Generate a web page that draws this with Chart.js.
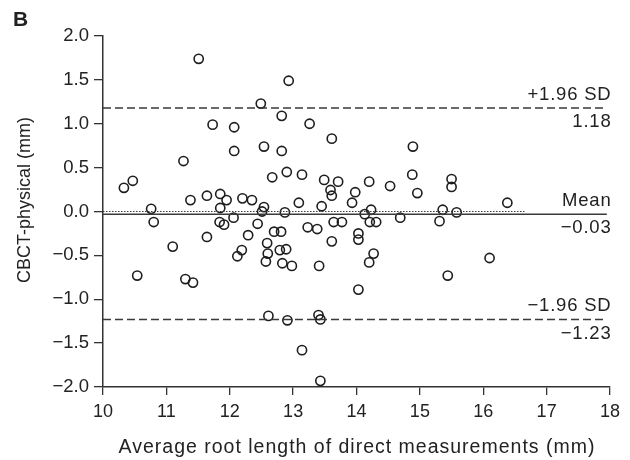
<!DOCTYPE html>
<html>
<head>
<meta charset="utf-8">
<script src="https://cdn.jsdelivr.net/npm/chart.js@4.4.0/dist/chart.umd.min.js"></script>
<style>
  html, body { margin: 0; padding: 0; background: #fff; }
  #wrap { width: 630px; height: 460px; position: relative; }
</style>
</head>
<body>
<div id="wrap"><canvas id="myChart" width="630" height="460"></canvas></div>
<script>
// average root length (x) and CBCT - physical difference (y)
const avgLength = [
  11.51, 12.49, 12.82, 11.73, 12.07, 12.07, 12.54, 12.82, 11.27, 12.67,
  10.47, 10.33, 11.38, 11.64, 11.85, 11.95, 12.20, 12.35, 10.76, 11.85,
  12.54, 12.51, 10.80, 11.84, 11.91, 12.06, 12.44, 12.70, 12.81, 12.29,
  11.64, 11.10, 12.59, 12.19, 12.12, 12.60, 12.79, 12.89, 12.57, 12.83,
  12.98, 10.54, 11.30, 11.42, 12.61, 13.09, 13.45, 13.93, 12.87, 14.23,
  14.13, 15.36, 15.31, 14.69, 13.64, 13.77, 14.21, 14.31, 13.23, 13.38,
  14.03, 14.03, 13.61, 13.41, 14.27, 14.20, 15.44, 14.03, 12.91, 13.40,
  13.43, 13.14, 13.43, 12.93, 13.26, 13.61, 14.89, 12.90, 13.14, 13.49,
  13.71, 13.59, 13.61, 13.98, 14.20, 14.53, 14.88, 14.96, 15.50, 15.50,
  15.58, 16.38, 16.10
];
const diffVals = [
  1.74, 1.23, 1.09, 0.99, 0.96, 0.69, 0.74, 0.69, 0.575, 0.39,
  0.35, 0.27, 0.13, 0.18, 0.20, 0.13, 0.15, 0.13, 0.03, 0.04,
  0.05, 0.00, -0.12, -0.12, -0.15, -0.07, -0.14, -0.23, -0.23, -0.27,
  -0.29, -0.40, -0.36, -0.44, -0.51, -0.48, -0.44, -0.43, -0.57, -0.59,
  -0.62, -0.73, -0.77, -0.81, -1.19, 0.10, 0.06, 0.10, -0.01, 0.02,
  -0.03, 0.02, -0.11, -0.07, -0.12, -0.12, -0.12, -0.12, -0.18, -0.20,
  -0.25, -0.32, -0.34, -0.62, -0.48, -0.58, -0.73, -0.89, -1.24, -1.18,
  -1.23, -1.58, -1.93, 1.49, 1.00, 0.83, 0.74, 0.45, 0.42, 0.36,
  0.34, 0.245, 0.18, 0.22, 0.34, 0.29, 0.42, 0.21, 0.37, 0.28,
  -0.01, 0.10, -0.53
];

const meanDiff = -0.03;
const upperLoA = 1.18;
const lowerLoA = -1.23;
const lineStart = 10;
const lineEnd = 17.95;
const zeroLineEnd = 16.65;

const xMin = 10, xMax = 18, xStep = 1;
const yMin = -2, yMax = 2, yStep = 0.5;

const FONT = "'Liberation Sans', Arial, sans-serif";
const AXIS = "#333";
const TEXT = "#222";

const minus = (s) => s.replace("-", "\u2212");

// text labels for the mean / limits and the axis titles
const annotations = {
  id: "annotations",
  afterDraw(chart) {
    const { ctx, chartArea, scales } = chart;
    ctx.save();
    ctx.fillStyle = TEXT;
    ctx.font = "18.5px " + FONT;
    ctx.letterSpacing = "0.8px";
    ctx.textAlign = "right";
    const xr = chartArea.right + 1.5;
    const put = (above, below, val) => {
      const py = scales.y.getPixelForValue(val);
      ctx.textBaseline = "alphabetic";
      ctx.fillText(above, xr, py - 8);
      ctx.textBaseline = "top";
      ctx.fillText(below, xr, py + 5);
    };
    put("+1.96 SD", upperLoA.toFixed(2), upperLoA);
    put("Mean", minus(meanDiff.toFixed(2)), meanDiff);
    put(minus("-1.96 SD"), minus(lowerLoA.toFixed(2)), lowerLoA);

    // axis titles
    ctx.textAlign = "center";
    ctx.textBaseline = "alphabetic";
    ctx.font = "19.5px " + FONT;
    ctx.letterSpacing = "1px";
    ctx.fillText("Average root length of direct measurements (mm)", 357, 453);
    ctx.letterSpacing = "0px";
    ctx.font = "18px " + FONT;
    ctx.textBaseline = "middle";
    ctx.save();
    ctx.translate(25, 200);
    ctx.rotate(-Math.PI / 2);
    ctx.fillText("CBCT-physical (mm)", 0, 0);
    ctx.restore();

    // panel letter
    ctx.font = "bold 21px " + FONT;
    ctx.textAlign = "left";
    ctx.textBaseline = "top";
    ctx.fillText("B", 13, 10);
    ctx.restore();
  },
};

const hLine = (val, x0, x1, dash, width) => ({
  type: "line",
  data: [{ x: x0, y: val }, { x: x1, y: val }],
  borderColor: "#3a3a3a",
  borderWidth: width,
  borderDash: dash,
  pointRadius: 0,
  fill: false,
});

new Chart(document.getElementById("myChart"), {
  type: "scatter",
  data: {
    datasets: [
      hLine(0, lineStart, zeroLineEnd, [1.5, 1.5], 1.2),
      hLine(meanDiff, lineStart, lineEnd, [], 1.5),
      hLine(upperLoA, lineStart, lineEnd, [8, 4], 1.5),
      hLine(lowerLoA, lineStart, lineEnd, [8, 4], 1.5),
      {
        label: "points",
        data: avgLength.map((x, i) => ({ x: x, y: diffVals[i] })),
        pointRadius: 4.6,
        pointBorderWidth: 1.6,
        pointBorderColor: "#1e1e1e",
        pointBackgroundColor: "rgba(0,0,0,0)",
        showLine: false,
      },
    ],
  },
  options: {
    responsive: false,
    animation: false,
    layout: { padding: { top: 36, right: 20, left: 0, bottom: 0 } },
    plugins: {
      legend: { display: false },
      tooltip: { enabled: false },
    },
    scales: {
      x: {
        type: "linear",
        min: xMin,
        max: xMax,
        afterFit: (scale) => { scale.height = 73; },
        grid: { drawOnChartArea: false, drawTicks: true, tickLength: 8, color: AXIS, lineWidth: 1.3 },
        border: { display: true, color: AXIS, width: 1.5 },
        ticks: {
          stepSize: xStep,
          padding: 6,
          color: TEXT,
          font: { family: FONT, size: 18 },
          maxRotation: 0,
        },
      },
      y: {
        type: "linear",
        min: yMin,
        max: yMax,
        afterFit: (scale) => { scale.width = 103; },
        grid: { drawOnChartArea: false, drawTicks: true, tickLength: 9, color: AXIS, lineWidth: 1.3 },
        border: { display: true, color: AXIS, width: 1.5 },
        ticks: {
          stepSize: yStep,
          padding: 5,
          color: TEXT,
          font: { family: FONT, size: 18.5 },
          callback: (v) => minus(Number(v).toFixed(1)),
        },
      },
    },
  },
  plugins: [annotations],
});
</script>
</body>
</html>
